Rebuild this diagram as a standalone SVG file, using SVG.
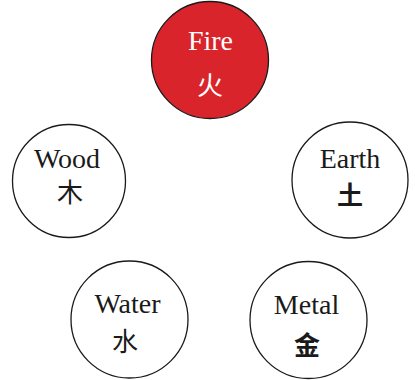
<svg xmlns="http://www.w3.org/2000/svg" width="415" height="380" viewBox="0 0 415 380">
<style>
.c{fill:#ffffff;stroke:#1a1a1a;stroke-width:1.3}
.fire{fill:#d9242b}
.en{font-family:"Liberation Serif",serif;font-size:28px;text-anchor:middle;fill:#1a1a1a}
.zh{font-family:"Noto Sans CJK SC","Noto Sans CJK TC",sans-serif;font-size:26px;text-anchor:middle;fill:#1a1a1a}
.b{font-weight:700}
.w{fill:#ffffff}
</style>
<rect width="415" height="380" fill="#ffffff"/>
<g id="connectors"></g>
<g id="fire">
<circle class="c fire" cx="210" cy="60" r="58.5"/>
<text class="en w" x="210.5" y="50">Fire</text>
<text class="zh w" x="210" y="95">火</text>
</g>
<g id="wood">
<circle class="c" cx="69" cy="181" r="56.5"/>
<text class="en" x="67" y="168">Wood</text>
<text class="zh" x="70" y="202">木</text>
</g>
<g id="earth">
<circle class="c" cx="350" cy="180" r="58"/>
<text class="en" x="350" y="168">Earth</text>
<text class="zh b" x="350" y="205">土</text>
</g>
<g id="water">
<circle class="c" cx="129.5" cy="319.5" r="58.5"/>
<text class="en" x="127.5" y="313">Water</text>
<text class="zh" x="125" y="351">水</text>
</g>
<g id="metal">
<circle class="c" cx="308.5" cy="320" r="58.5"/>
<text class="en" x="306.5" y="314">Metal</text>
<text class="zh b" x="307" y="355">金</text>
</g>
</svg>
